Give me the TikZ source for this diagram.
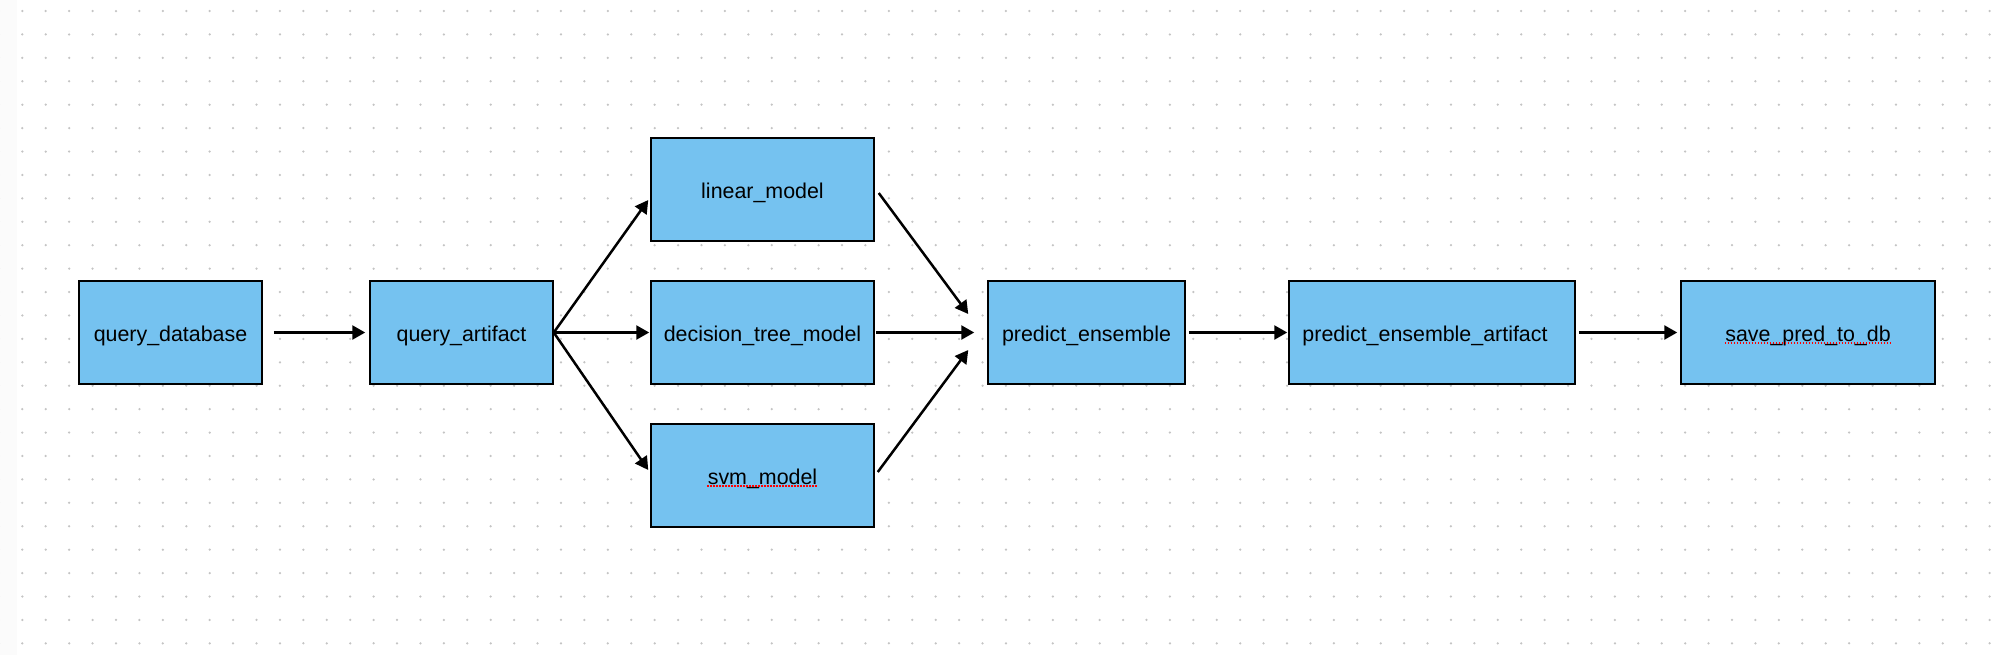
\documentclass[tikz,border=0pt]{standalone}
\usepackage{fontspec}
\setmainfont{Liberation Sans}
\usetikzlibrary{arrows.meta,calc}
\definecolor{boxblue}{RGB}{117,194,240}
\definecolor{dotgray}{RGB}{196,196,196}
\definecolor{stripgray}{RGB}{251,251,251}
\begin{document}
\begin{tikzpicture}[x=0.5pt,y=-0.5pt,
  box/.style={draw=black, line width=0.75pt, fill=boxblue, minimum height=51.5pt, inner sep=0pt,
    font=\fontsize{10.7}{12}\selectfont, text=black, text height=9.5pt, text depth=1pt},
  lbl/.style={inner sep=0pt, font=\fontsize{10.7}{12}\selectfont, text=black, text height=9.5pt, text depth=1pt},
  conn/.style={-{Triangle[length=6.5pt,width=7pt]}, line width=1.25pt, draw=black},
  squig/.style={draw=red, line width=0.6pt, dash pattern=on 0.6pt off 0.9pt}]
\useasboundingbox (0,0) rectangle (2000,655);
\fill[white] (0,0) rectangle (2000,655);
\fill[stripgray] (0,0) rectangle (17,655);
\foreach \i in {0,...,85} {
  \foreach \j in {0,...,27} {
    \fill[dotgray] ({-1.1+23.42*\i},{11+23.42*\j}) circle (1.25);
  }
}
% nodes
\node[box, minimum width=91.5pt] (qd) at (170.5,332.5) {query\_database};
\node[box, minimum width=91.5pt] (qa) at (461.5,332.5) {query\_artifact};
\node[box, minimum width=111.5pt] (lm) at (762.5,189.5) {linear\_model};
\node[box, minimum width=111.5pt] (dt) at (762.5,332.5) {decision\_tree\_model};
\node[box, minimum width=111.5pt] (svm) at (762.5,475.5) {};
\node[lbl] (svmt) at (svm.center) {svm\_model};
\node[box, minimum width=98.5pt] (pe) at (1086.5,332.5) {predict\_ensemble};
\node[box, minimum width=143pt] (pea) at (1432,332.5) {};
\node[lbl] (peat) at (1425,332.5) {predict\_ensemble\_artifact};
\node[box, minimum width=127pt] (save) at (1808,332.5) {};
\node[lbl] (savet) at (save.center) {save\_pred\_to\_db};
% spell-check underlines
\draw[squig] ($(svmt.base west)+(0,2)$) -- ($(svmt.base east)+(0,2)$);
\draw[squig] ($(savet.base west)+(0,2)$) -- ($(savet.base east)+(0,2)$);
% connectors
\draw[conn] ($(qd.east)+(11,0)$) -- ($(qa.west)+(-4,0)$);
\draw[conn] (qa.east) -- ($(lm.west)+(-2,10.5)$);
\draw[conn] (qa.east) -- ($(dt.west)+(-1,0)$);
\draw[conn] (qa.east) -- ($(svm.west)+(-2,-5.5)$);
\draw[conn] ($(lm.east)+(4,3.5)$) -- ($(pe.west)+(-19,-18.5)$);
\draw[conn] ($(dt.east)+(1,0)$) -- ($(pe.west)+(-13,0)$);
\draw[conn] ($(svm.east)+(3,-3.5)$) -- ($(pe.west)+(-19,17.5)$);
\draw[conn] ($(pe.east)+(3,0)$) -- ($(pea.west)+(-1,0)$);
\draw[conn] ($(pea.east)+(3,0)$) -- ($(save.west)+(-3,0)$);
\end{tikzpicture}
\end{document}
